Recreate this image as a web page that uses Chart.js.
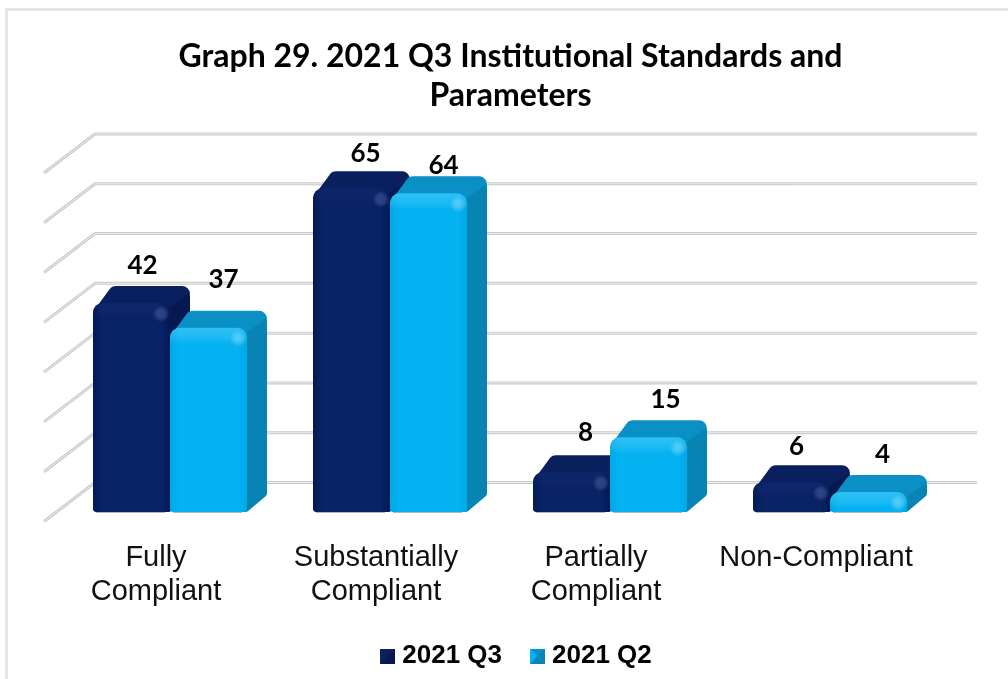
<!DOCTYPE html>
<html>
<head>
<meta charset="utf-8">
<style>
html, body { margin: 0; padding: 0; background: #fff; }
#wrap { width: 1008px; height: 679px; }
</style>
<script src="https://cdn.jsdelivr.net/npm/chart.js@4/dist/chart.umd.min.js"></script>
</head>
<body>
<div id="wrap"><canvas id="complianceChart" width="1008" height="679"></canvas></div>
<script>
const categories = [['Fully', 'Compliant'], ['Substantially', 'Compliant'], ['Partially', 'Compliant'], 'Non-Compliant'];
const q3Values = [42, 65, 8, 6];
const q2Values = [37, 64, 15, 4];
const gridValues = [0, 10, 20, 30, 40, 50, 60, 70];
const titleLines = ['Graph 29. 2021 Q3 Institutional Standards and', 'Parameters'];

// depth of the fake 3D
const depthX = 20, depthY = 17;
// hand placement of the value labels, same order as the values
const labelShift = [
    [[11, -37], [15, -48]],
    [[14, -35], [15, -28]],
    [[14, -40], [17, -38]],
    [[5, -36], [14, -37]]
];

const palette = [
    { front: '#0a2266', edge: '#001a57', top: '#0a1f5e', side: '#05184f', glow: 'rgba(70,100,190,0.4)', band: 'rgba(90,120,200,0.04)' },
    { front: '#04b2f2', edge: '#00a8e6', top: '#0a90c4', side: '#0884b4', glow: 'rgba(130,225,255,0.5)', band: 'rgba(150,230,255,0.28)' }
];

// pts are [x, y, corner radius]
function roundedPoly(ctx, pts) {
    const n = pts.length;
    ctx.beginPath();
    ctx.moveTo((pts[0][0] + pts[n - 1][0]) / 2, (pts[0][1] + pts[n - 1][1]) / 2);
    for (let i = 0; i < n; i++) {
        const p = pts[i], q = pts[(i + 1) % n];
        ctx.arcTo(p[0], p[1], q[0], q[1], p[2]);
    }
    ctx.closePath();
}

function markerCanvas(c) {
    const m = document.createElement('canvas');
    m.width = 15; m.height = 15;
    const g = m.getContext('2d');
    const tri = (a, b, col) => {
        g.fillStyle = col;
        g.beginPath(); g.moveTo(a[0], a[1]); g.lineTo(b[0], b[1]); g.lineTo(7.5, 7.5); g.fill();
    };
    g.fillStyle = c.front;
    g.fillRect(0, 0, 15, 15);
    tri([0, 0], [15, 0], c.top);
    tri([15, 0], [15, 15], c.side);
    tri([15, 15], [0, 15], c.side);
    tri([0, 15], [0, 0], c.front);
    return m;
}

function drawShell(ctx, bar, c) {
    const x0 = bar.x - bar.width / 2, x1 = bar.x + bar.width / 2, yt = bar.y, yb = bar.base;
    const xr = x1 + depthX, yr = yt - depthY;
    // side
    ctx.fillStyle = c.side;
    roundedPoly(ctx, [[x1 - 8, yr + 8, 1], [xr, yr, 8], [xr, yb - depthY, 3], [x1, yb, 4], [x1 - 8, yb, 1]]);
    ctx.fill();
    // top
    ctx.fillStyle = c.top;
    roundedPoly(ctx, [[x0, yt + 9, 2], [x0 + depthX - 1, yr, 8], [xr, yr, 8], [xr, yr + 7, 1], [x1 - 2, yt + 6, 1]]);
    ctx.fill();
    // soft contact line under the bar
    ctx.fillStyle = 'rgba(150,150,150,0.7)';
    ctx.fillRect(x0 + 3, yb, bar.width - 8, 1);
}

function drawShade(ctx, bar, c) {
    const x0 = bar.x - bar.width / 2, x1 = bar.x + bar.width / 2, yt = bar.y, yb = bar.base;
    ctx.save();
    ctx.beginPath();
    ctx.roundRect(x0, yt, bar.width, yb - yt, [10, 10, 4, 4]);
    ctx.clip();
    // darker rim left and right
    let g = ctx.createLinearGradient(x0, 0, x1, 0);
    g.addColorStop(0, c.edge);
    g.addColorStop(0.12, c.front);
    g.addColorStop(0.88, c.front);
    g.addColorStop(1, c.edge);
    ctx.fillStyle = g;
    ctx.fillRect(x0, yt, bar.width, yb - yt);
    // lighter band along the top
    g = ctx.createLinearGradient(0, yt, 0, yt + 16);
    g.addColorStop(0, c.band);
    g.addColorStop(1, 'rgba(255,255,255,0)');
    ctx.fillStyle = g;
    ctx.fillRect(x0, yt, bar.width, 16);
    // small highlight near the top right corner
    const hx = x1 - 9, hy = yt + 11;
    g = ctx.createRadialGradient(hx, hy, 0, hx, hy, 8);
    g.addColorStop(0, c.glow);
    g.addColorStop(1, 'rgba(255,255,255,0)');
    ctx.fillStyle = g;
    ctx.fillRect(hx - 10, hy - 10, 20, 20);
    ctx.restore();
}

const depthBars = {
    id: 'depthBars',
    afterLayout(chart) {
        // the original centres these on the plot, a bit right of the canvas centre
        chart.titleBlock.left += 21;
        chart.legend.left += 38;
    },
    beforeDraw(chart) {
        const ctx = chart.ctx;
        // outer frame of the pasted chart
        ctx.save();
        ctx.strokeStyle = '#e2e2e2';
        ctx.lineWidth = 2.5;
        ctx.beginPath();
        ctx.moveTo(6.5, 679);
        ctx.lineTo(6.5, 9.5);
        ctx.lineTo(1008, 9.5);
        ctx.stroke();
        ctx.restore();
    },
    beforeDatasetsDraw(chart) {
        const ctx = chart.ctx, y = chart.scales.y;
        ctx.save();
        ctx.lineJoin = 'round';
        gridValues.forEach((v) => {
            const py = y.getPixelForValue(v);
            [['#c9c9c9', 3], ['#ececec', 1]].forEach(([col, w]) => {
                ctx.strokeStyle = col;
                ctx.lineWidth = w;
                ctx.beginPath();
                ctx.moveTo(44, py + 9.5);
                ctx.lineTo(95, py - 29.5);
                ctx.lineTo(977, py - 29.5);
                ctx.stroke();
            });
        });
        // Q3 has to go under Q2, chart.js would paint them the other way round
        [0, 1].forEach((d) => {
            const meta = chart.getDatasetMeta(d);
            meta.data.forEach((bar) => drawShell(ctx, bar, palette[d]));
            meta.controller.draw();
            meta.data.forEach((bar) => drawShade(ctx, bar, palette[d]));
        });
        ctx.restore();
    },
    beforeDatasetDraw() {
        return false;
    },
    afterDatasetsDraw(chart) {
        const ctx = chart.ctx;
        ctx.save();
        ctx.font = 'bold 26px Lato, sans-serif';
        ctx.fillStyle = '#000';
        ctx.textAlign = 'center';
        ctx.textBaseline = 'middle';
        chart.data.datasets.forEach((ds, d) => {
            chart.getDatasetMeta(d).data.forEach((bar, i) => {
                const s = labelShift[i][d];
                ctx.fillText(ds.data[i], bar.x + s[0], bar.y + s[1]);
            });
        });
        ctx.restore();
    }
};

new Chart(document.getElementById('complianceChart').getContext('2d'), {
    type: 'bar',
    data: {
        labels: categories,
        datasets: [
            { label: '2021 Q3', data: q3Values, backgroundColor: palette[0].front, pointStyle: markerCanvas(palette[0]) },
            { label: '2021 Q2', data: q2Values, backgroundColor: palette[1].front, pointStyle: markerCanvas(palette[1]) }
        ]
    },
    options: {
        responsive: false,
        animation: false,
        categoryPercentage: 0.7,
        barPercentage: 1,
        borderRadius: { topLeft: 10, topRight: 10, bottomLeft: 4, bottomRight: 4 },
        borderSkipped: false,
        layout: { padding: { left: 60, right: 68, top: 0, bottom: 0 } },
        scales: {
            y: { display: false, min: 0, max: 70 },
            x: {
                grid: { display: false, drawTicks: false },
                border: { display: false },
                ticks: {
                    padding: 29,
                    labelOffset: -14,
                    maxRotation: 0,
                    color: '#111',
                    font: { family: 'Liberation Sans, Arial, sans-serif', size: 29, lineHeight: 1.17 }
                },
                afterFit(scale) { scale.height = 97; }
            }
        },
        plugins: {
            tooltip: { enabled: false },
            title: {
                display: true,
                text: titleLines,
                color: '#000',
                font: { family: 'Lato, sans-serif', size: 32, weight: 'bold', lineHeight: 1.22 },
                padding: { top: 37, bottom: 48.4 }
            },
            legend: {
                position: 'bottom',
                labels: {
                    usePointStyle: true,
                    pointStyleWidth: 3,
                    padding: 34,
                    color: '#000',
                    font: { family: 'Liberation Sans, Arial, sans-serif', size: 26, weight: 'bold' }
                }
            }
        }
    },
    plugins: [depthBars]
});
</script>
</body>
</html>
